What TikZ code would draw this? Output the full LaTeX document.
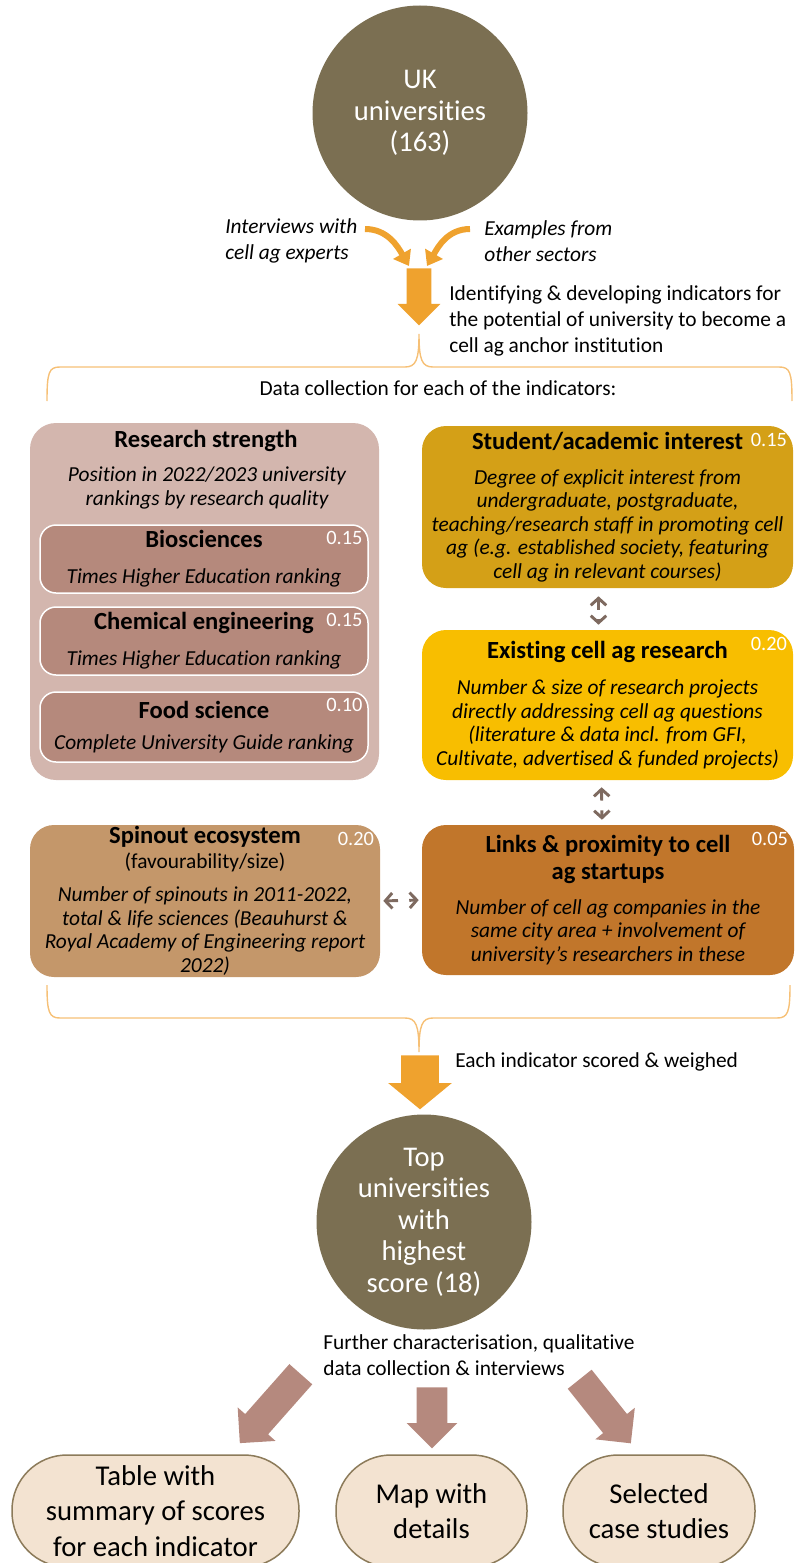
\documentclass[tikz,border=0pt]{standalone}
\usepackage{fontspec}
\setmainfont{Carlito}[Ligatures={TeX,NoCommon}]
\usepackage{tikz}
\usetikzlibrary{shapes.arrows, arrows.meta, positioning}
\definecolor{caolive}{RGB}{123,111,82}
\definecolor{caorange}{RGB}{239,162,46}
\definecolor{calight}{RGB}{246,192,118}
\definecolor{carose}{RGB}{211,182,174}
\definecolor{caroseD}{RGB}{181,137,124}
\definecolor{cagold}{RGB}{212,160,23}
\definecolor{cayellow}{RGB}{248,190,0}
\definecolor{catan}{RGB}{196,151,106}
\definecolor{cabrown}{RGB}{193,118,43}
\definecolor{cagrey}{RGB}{126,106,96}
\definecolor{camauve}{RGB}{181,137,126}
\definecolor{cacream}{RGB}{243,227,209}
\definecolor{caedge}{RGB}{140,123,90}
\newdimen\upx \upx=0.025cm
\newcommand{\ttlfont}{\fontsize{17.5}{20}\selectfont\bfseries\upshape}

\begin{document}
\begin{tikzpicture}[
  x=0.025cm, y=-0.025cm,
  every node/.style={font=\fontsize{15.2}{18.5}\selectfont},
  uni/.style={circle, fill=caolive, text=white, minimum size=215\upx,
              inner sep=0pt, align=center, font=\fontsize{20.3}{22.4}\selectfont},
  note/.style={align=left, inner sep=0pt},
  src/.style={note, font=\fontsize{15.2}{18.5}\selectfont\itshape},
  indic/.style={rectangle, rounded corners=24\upx, align=center, inner sep=0pt,
                font=\fontsize{15.2}{16.7}\selectfont\itshape},
  sub/.style={indic, fill=caroseD, draw=white, line width=1.5\upx,
              rounded corners=16\upx, minimum width=328\upx},
  val/.style={anchor=north east, text=white, inner xsep=6\upx, inner ysep=7\upx,
              font=\fontsize{14.5}{16}\selectfont},
  outcome/.style={rectangle, rounded corners=55\upx, fill=cacream, draw=caedge,
                  line width=1.5\upx, minimum height=112\upx, align=center,
                  inner sep=0pt, font=\fontsize{20.4}{25}\selectfont},
  bigflow/.style={single arrow, fill=caorange, inner xsep=0pt, anchor=tail,
                  rotate=-90, single arrow tip angle=90},
  outflow/.style={single arrow, fill=camauve, inner xsep=0pt, inner ysep=15\upx,
                  anchor=tail, single arrow head extend=10\upx},
  curv/.style={draw=caorange, line width=6\upx, -{Triangle[length=10pt, width=14pt]}},
  dbl/.style={draw=cagrey, line width=2.1pt,
              {Straight Barb[length=5pt, width=11pt]}-{Straight Barb[length=5pt, width=11pt]}},
  brc/.style={draw=calight, line width=1.4\upx},
]
\useasboundingbox (0,0) rectangle (795,1563);
\clip (0,0) rectangle (795,1563);

% Starting pool
\node[uni] (uk) at (420,113) {UK\\universities\\(163)};

% Inputs to the indicator design
\node[src, anchor=west] (intv) at (225,241) {Interviews with\\cell ag experts};
\node[src, anchor=west] (exmp) at (484,241) {Examples from\\other sectors};
\coordinate (intvout) at (365,229);
\coordinate (exmpout) at (470,229);
\coordinate (mergeL) at (409,266);
\coordinate (mergeR) at (427,266);
\draw[curv] (intvout) to[out=0, in=120] (mergeL);
\draw[curv] (exmpout) to[out=180, in=60] (mergeR);

\node[bigflow, minimum height=57\upx, inner ysep=12\upx,
      single arrow head extend=9\upx] (flow1) at (419,268) {};
\node[note, anchor=west] (idx) at (449,321)
  {Identifying \& developing indicators for\\the potential of university to become a\\cell ag anchor institution};

% upper brace
\draw[brc] (47,401) .. controls (47,372) and (49,367) .. (60,367) -- (405,367)
  .. controls (416,367) and (419,360) .. (419,334)
  .. controls (419,360) and (422,367) .. (433,367) -- (779,367)
  .. controls (790,367) and (792,372) .. (792,401);
\node (dc) at (438,388) {Data collection for each of the indicators:};

% Research strength group
\node[fill=carose, rounded corners=26\upx, minimum width=349\upx,
      minimum height=357\upx, inner sep=0pt] (rs) at (204.5,601.5) {};
\node[font=\ttlfont] (rsttl) at (206,441) {Research strength};
\node[align=center, font=\fontsize{15.2}{16.9}\selectfont\itshape] (rsdesc) at (207,488)
  {Position in 2022/2023 university\\rankings by research quality};

\node[sub, minimum height=68\upx] (bio) at (204,559)
  {{\ttlfont Biosciences}\\[8.9pt]Times Higher Education ranking};
\node[val] (bioval) at (bio.north east) {0.15};
\node[sub, minimum height=68\upx] (chem) at (204,641)
  {{\ttlfont Chemical engineering}\\[8.9pt]Times Higher Education ranking};
\node[val] (chemval) at (chem.north east) {0.15};
\node[sub, minimum height=70\upx] (food) at (204,727)
  {{\ttlfont Food science}\\[5.4pt]Complete University Guide ranking};
\node[val] (foodval) at (food.north east) {0.10};

% Other indicators
\node[indic, fill=cagold, minimum width=371\upx, minimum height=162\upx] (intr) at (607.5,507)
  {{\ttlfont Student/academic interest}\\[8.2pt]Degree of explicit interest from\\
   undergraduate, postgraduate,\\teaching/research staff in promoting cell\\
   ag (e.g. established society, featuring\\cell ag in relevant courses)};
\node[val] (intrval) at (intr.north east) {0.15};

\node[indic, fill=cayellow, minimum width=371\upx, minimum height=150\upx] (exist) at (607.5,705)
  {{\ttlfont Existing cell ag research}\\[8.9pt]Number \& size of research projects\\
   directly addressing cell ag questions\\(literature \& data incl. from GFI,\\
   Cultivate, advertised \& funded projects)};
\node[val] (existval) at (exist.north east) {0.20};

\node[indic, fill=catan, minimum width=350\upx, minimum height=152\upx] (spin) at (205,901)
  {{\ttlfont Spinout ecosystem}\\[1.1pt]{\upshape (favourability/size)}\\[6.8pt]
   Number of spinouts in 2011-2022,\\total \& life sciences (Beauhurst \&\\
   Royal Academy of Engineering report\\2022)};
\node[val] (spinval) at (spin.north east) {0.20};

\node[indic, fill=cabrown, minimum width=372\upx, minimum height=150\upx] (links) at (608,900)
  {{\ttlfont Links \& proximity to cell}\\[2pt]{\ttlfont ag startups}\\[8.2pt]
   Number of cell ag companies in the\\same city area + involvement of\\
   university's researchers in these};
\node[val] (linksval) at (links.north east) {0.05};

\draw[dbl, dash pattern=on 7pt off 7pt, shorten <=8\upx, shorten >=5\upx]
  ([xshift=-9\upx]intr.south) -- ([xshift=-9\upx]exist.north);
\draw[dbl, dash pattern=on 7pt off 7pt, shorten <=7\upx, shorten >=5\upx]
  ([xshift=-6\upx]exist.south) -- ([xshift=-6\upx]links.north);
\draw[dbl, dash pattern=on 8pt off 8pt, shorten <=3\upx, shorten >=3\upx]
  (spin.east) -- (links.west);

% lower brace
\draw[brc] (47,985) .. controls (47,1012) and (49,1018) .. (60,1018) -- (405,1018)
  .. controls (416,1018) and (419,1025) .. (419,1052)
  .. controls (419,1025) and (422,1018) .. (433,1018) -- (777,1018)
  .. controls (788,1018) and (790,1012) .. (790,985);

\node[bigflow, minimum height=54\upx, inner ysep=18.5\upx,
      single arrow head extend=13\upx, single arrow tip angle=101] (flow2) at (420,1055) {};
\node[note, anchor=west] (score) at (455,1062) {Each indicator scored \& weighed};

% Shortlist
\node[uni] (top) at (424,1222) {Top\\universities\\with\\highest\\score (18)};
\node[note, anchor=west] (further) at (323,1355)
  {Further characterisation, qualitative\\data collection \& interviews};

\node[outflow, rotate=228.5, minimum height=92\upx] (totable) at (301,1374) {};
\node[outflow, rotate=-90, minimum height=61\upx] (tomap) at (432,1387) {};
\node[outflow, rotate=-51.4, minimum height=82\upx] (tocases) at (579.5,1379) {};

% Outputs
\node[outcome, minimum width=287\upx] (table) at (155.5,1511)
  {Table with\\summary of scores\\for each indicator};
\node[outcome, minimum width=191\upx] (map) at (431.5,1511) {Map with\\details};
\node[outcome, minimum width=192\upx] (cases) at (659,1511) {Selected\\case studies};

\end{tikzpicture}
\end{document}
